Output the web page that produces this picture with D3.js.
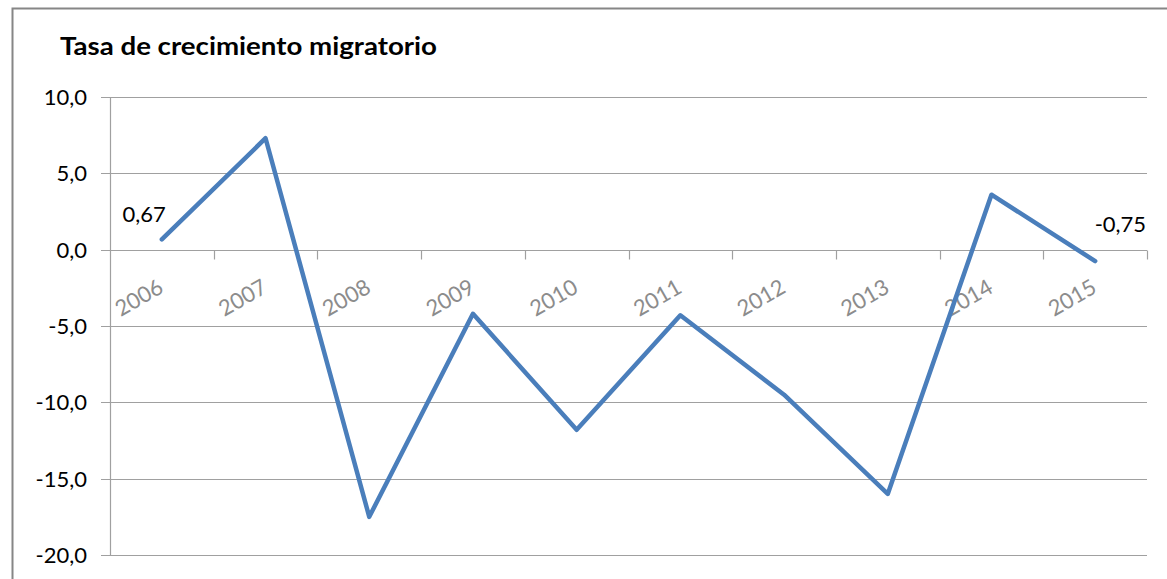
<!DOCTYPE html>
<html>
<head>
<meta charset="utf-8">
<script src="https://cdn.jsdelivr.net/npm/d3@7"></script>
<style>
  body { margin: 0; background: #fff; }
  svg text { font-family: Lato, "Open Sans", sans-serif; }
</style>
</head>
<body>
<svg id="chart" width="1167" height="579"></svg>
<script>
// chart data
const years = ["2006", "2007", "2008", "2009", "2010", "2011", "2012", "2013", "2014", "2015"];
const tasa = [0.67, 7.3, -17.5, -4.2, -11.8, -4.3, -9.5, -16.0, 3.6, -0.75];
const yTicks = [10, 5, 0, -5, -10, -15, -20];
const title = "Tasa de crecimiento migratorio";

const svg = d3.select("#chart");
const plot = { left: 110, right: 1147, top: 97, bottom: 555 };

// outer frame
svg.append("rect")
    .attr("x", 12.5).attr("y", 8.5)
    .attr("width", 1170).attr("height", 600)
    .attr("fill", "none")
    .attr("stroke", "#868686")
    .attr("stroke-width", 2);

svg.append("text")
    .attr("x", 60).attr("y", 55)
    .attr("font-size", 25)
    .attr("font-weight", "bold")
    .attr("fill", "#000")
    .attr("textLength", 377)
    .attr("lengthAdjust", "spacingAndGlyphs")
    .text(title);

const x = d3.scaleBand().domain(years).range([plot.left, plot.right]);
const y = d3.scaleLinear().domain([-20, 10]).range([plot.bottom, plot.top]);

// horizontal gridlines
svg.append("g").selectAll("line")
    .data(yTicks)
    .join("line")
    .attr("x1", plot.left - 9).attr("x2", plot.right)
    .attr("y1", d => Math.round(y(d)) + 0.5).attr("y2", d => Math.round(y(d)) + 0.5)
    .attr("stroke", "#a0a0a0")
    .attr("stroke-width", 1.2);

// value axis line
svg.append("line")
    .attr("x1", plot.left + 0.5).attr("x2", plot.left + 0.5)
    .attr("y1", plot.top).attr("y2", plot.bottom)
    .attr("stroke", "#a0a0a0").attr("stroke-width", 1.2);

// y tick labels
svg.append("g").selectAll("text")
    .data(yTicks)
    .join("text")
    .attr("x", 87)
    .attr("y", d => y(d) + 8)
    .attr("text-anchor", "end")
    .attr("font-size", 22)
    .attr("fill", "#000")
    .text(d => d3.format(".1f")(d).replace(".", ",").replace("−", "-"));

// category axis ticks (at band boundaries)
const y0 = Math.round(y(0)) + 0.5;
const bounds = years.map(d => x(d)).concat([plot.right]);
svg.append("g").selectAll("line")
    .data(bounds.slice(1))
    .join("line")
    .attr("x1", d => Math.round(d) + 0.5).attr("x2", d => Math.round(d) + 0.5)
    .attr("y1", y0).attr("y2", y0 + 9)
    .attr("stroke", "#a0a0a0").attr("stroke-width", 1.2);

// rotated category labels
svg.append("g").selectAll("text")
    .data(years)
    .join("text")
    .attr("transform", d => `translate(${x(d) + x.bandwidth() / 2 + 3},${y0 + 41}) rotate(-30)`)
    .attr("text-anchor", "end")
    .attr("font-size", 22)
    .attr("fill", "#8c8c8c")
    .text(d => d);

// series line
const line = d3.line()
    .x((d, i) => x(years[i]) + x.bandwidth() / 2)
    .y(d => y(d));

svg.append("path")
    .datum(tasa)
    .attr("d", line)
    .attr("fill", "none")
    .attr("stroke", "#4a7ebb")
    .attr("stroke-width", 4.5)
    .attr("stroke-linejoin", "round")
    .attr("stroke-linecap", "round");

// data labels for first and last points
const fmt = v => String(v).replace(".", ",");
const n = tasa.length - 1;
svg.append("text")
    .attr("x", x(years[0]) + x.bandwidth() / 2 + 4)
    .attr("y", y(tasa[0]) - 17)
    .attr("text-anchor", "end")
    .attr("font-size", 22)
    .text(fmt(tasa[0]));
svg.append("text")
    .attr("x", x(years[n]) + x.bandwidth() / 2 + 51)
    .attr("y", y(tasa[n]) - 29)
    .attr("text-anchor", "end")
    .attr("font-size", 22)
    .text(fmt(tasa[n]));
</script>
</body>
</html>
